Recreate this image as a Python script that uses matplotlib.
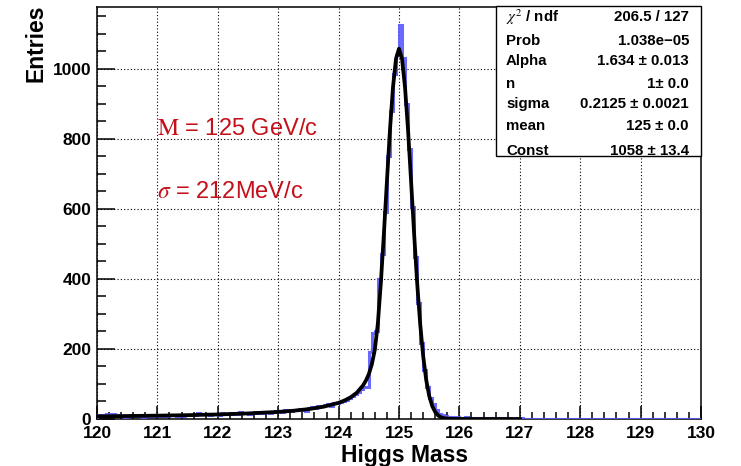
import numpy as np
import matplotlib
matplotlib.use('Agg')
import matplotlib.pyplot as plt
from matplotlib.patches import Rectangle
from matplotlib.ticker import MultipleLocator

plt.rcParams['font.family'] = ['Liberation Sans', 'DejaVu Sans']
plt.rcParams['mathtext.fontset'] = 'stix'

# histogram: 200 bins of 0.05 GeV from 120 to 130
bin_edges = np.linspace(120, 130, 201)
hist_counts = [
    12, 11, 9, 14, 15, 13, 10, 8, 9, 7, 8, 10, 9, 8, 9, 7, 10, 8, 9, 11,
    9, 8, 10, 9, 12, 11, 9, 10, 8, 11, 10, 12, 11, 17, 15, 13, 14, 12, 15, 13,
    12, 16, 14, 13, 18, 15, 14, 19, 17, 16, 15, 18, 20, 17, 16, 19, 21, 18, 20, 22,
    24, 21, 25, 24, 22, 26, 25, 28, 27, 24, 30, 33, 31, 38, 36, 40, 42, 38, 45, 47,
    48, 52, 55, 60, 66, 71, 78, 86, 90, 92, 190, 245, 250, 400, 470, 590, 750, 880, 985, 1040,
    1125, 1030, 900, 770, 605, 462, 330, 218, 140, 90, 60, 42, 25, 14, 10, 8, 6, 5, 4, 5,
    4, 3, 5, 3, 2, 4, 3, 2, 3, 2, 2, 3, 1, 2, 2, 1, 2, 1, 1, 2,
    2, 1, 0, 1, 0, 0, 0, 0, 1, 0, 0, 0, 0, 0, 0, 0, 0, 0, 0, 0,
    0, 0, 0, 0, 0, 0, 0, 0, 0, 0, 0, 0, 0, 0, 0, 0, 0, 0, 0, 0,
    0, 0, 0, 0, 0, 0, 0, 0, 0, 0, 0, 0, 0, 0, 0, 0, 0, 0, 0, 0,
]

# fit curve, points
fit_x = [120, 120.5, 121, 121.5, 122, 122.5, 123, 123.25, 123.5, 123.75, 124,
         124.1, 124.2, 124.3, 124.4, 124.45, 124.5, 124.55, 124.6, 124.65,
         124.7, 124.75, 124.8, 124.85, 124.9, 124.95, 125, 125.05, 125.1,
         125.15, 125.2, 125.25, 125.3, 125.35, 125.4, 125.45, 125.5, 125.55,
         125.6, 125.65, 125.7, 125.75, 125.8, 125.9, 126, 126.5, 127]
fit_y = [7.6, 8.5, 9.6, 11.0, 13.0, 15.9, 20.3, 23.6, 28.2, 35.1, 46.2,
         53, 62, 75, 95, 109, 128, 156, 198, 273,
         390, 530, 679, 825, 947, 1029, 1058, 1029, 947,
         825, 679, 530, 390, 273, 180, 112, 66, 37,
         19.7, 9.8, 4.6, 2.1, 0.9, 0.1, 0, 0, 0]

stat_names = [r'$\chi^2$ / ndf', 'Prob', 'Alpha', 'n', 'sigma', 'mean', 'Const']
stat_values = ['206.5 / 127', '1.038e\u221205', '1.634 \u00b1 0.013', '1\u00b1 0.0',
               '0.2125 \u00b1 0.0021', '125 \u00b1 0.0', '1058 \u00b1 13.4']

W, H = 741, 466
fig = plt.figure(figsize=(W / 100, H / 100), dpi=100)
ax = fig.add_axes([97 / W, 1 - 419 / H, 604 / W, 412 / H])

ax.stairs(hist_counts, bin_edges, color='#5a5aff', lw=2.2, alpha=0.9, zorder=3)
ax.plot(fit_x, fit_y, color='black', lw=2.7, zorder=4)

ax.set_xlim(120, 130)
ax.set_ylim(0, 1177)
ax.xaxis.set_major_locator(MultipleLocator(1))
ax.xaxis.set_minor_locator(MultipleLocator(0.2))
ax.yaxis.set_major_locator(MultipleLocator(200))
ax.yaxis.set_minor_locator(MultipleLocator(50))
ax.grid(True, which='major', color='black', lw=0.8, linestyle=(0, (1, 2)))
ax.set_axisbelow(True)

ax.tick_params(axis='x', which='major', direction='in', length=9.5, width=1.1,
               labelsize=12.5, pad=5)
ax.tick_params(axis='x', which='minor', direction='in', length=4.7, width=1.1)
ax.tick_params(axis='y', which='major', direction='in', length=13, width=1.1,
               labelsize=12.5, pad=4)
ax.tick_params(axis='y', which='minor', direction='in', length=6.5, width=1.1)
for lab in ax.get_xticklabels() + ax.get_yticklabels():
    lab.set_fontweight('bold')
for sp in ax.spines.values():
    sp.set_linewidth(1.1)

fig.text(468 / W, 1 - 462 / H, 'Higgs Mass', ha='right', va='baseline',
         fontsize=16.5, fontweight='bold')
fig.text(36 / W, 1 - 5 / H, 'Entries', ha='center', va='top', rotation=90,
         fontsize=16.5, fontweight='bold')

ax.text(120.99, 811, r'$\mathrm{M}$ = 125 GeV/c', color='#c4101a', fontsize=17,
        va='baseline', ha='left')
ax.text(120.99, 631, r'$\sigma$ = 212MeV/c', color='#c4101a', fontsize=17,
        va='baseline', ha='left')

# stats box
fig.add_artist(Rectangle((496 / W, 1 - 156 / H), 205 / W, 150 / H,
                         transform=fig.transFigure, facecolor='white',
                         edgecolor='black', lw=1.0, zorder=10))
row_y = [17, 41, 61, 84, 104, 126, 151]
for name, val, yy in zip(stat_names, stat_values, row_y):
    fig.text(506 / W, 1 - yy / H, name, ha='left', va='center',
             fontsize=10.8, fontweight='bold', zorder=11)
    fig.text(689 / W, 1 - yy / H, val, ha='right', va='center',
             fontsize=10.8, fontweight='bold', zorder=11)

fig.savefig('out.png', dpi=100)
